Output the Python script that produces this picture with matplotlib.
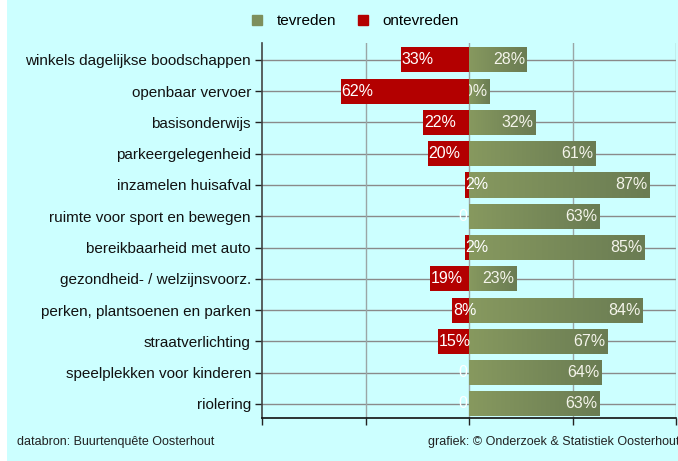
import numpy as np
import matplotlib.pyplot as plt
from matplotlib.patches import Rectangle
from matplotlib.lines import Line2D
from matplotlib.colors import LinearSegmentedColormap

plt.rcParams['font.family'] = ['Liberation Sans', 'DejaVu Sans']

categories = ['winkels dagelijkse boodschappen', 'openbaar vervoer', 'basisonderwijs',
              'parkeergelegenheid', 'inzamelen huisafval', 'ruimte voor sport en bewegen',
              'bereikbaarheid met auto', 'gezondheid- / welzijnsvoorz.',
              'perken, plantsoenen en parken', 'straatverlichting',
              'speelplekken voor kinderen', 'riolering']
tevreden = [28, 10, 32, 61, 87, 63, 85, 23, 84, 67, 64, 63]
ontevreden = [33, 62, 22, 20, 2, 0, 2, 19, 8, 15, 0, 0]

bg = '#ccffff'
red = '#b30000'
green_cmap = LinearSegmentedColormap.from_list('olive', ['#87995f', '#6a7c53'])

fig = plt.figure(figsize=(6.78, 4.61), dpi=100, facecolor='white')
fig.patches.append(Rectangle((7 / 678, 0), 1, 1, transform=fig.transFigure,
                             facecolor=bg, edgecolor='none', zorder=-10))
ax = fig.add_axes([262 / 678, 1 - 418 / 461, 414 / 678, 375 / 461])
ax.set_facecolor(bg)

y = np.arange(len(categories))
h = 0.8

# groene balken met verloop
grad = np.linspace(0, 1, 256).reshape(1, -1)
for yi, v in zip(y, tevreden):
    bar = ax.barh(yi, v, height=h, color='none', zorder=2)[0]
    im = ax.imshow(grad, cmap=green_cmap, aspect='auto', zorder=2,
                   extent=[0, v, yi + h / 2, yi - h / 2])
    im.set_clip_path(bar)
    ax.annotate(f'{v}%', (v, yi), xytext=(-1.5, 0), textcoords='offset points',
                ha='right', va='center', color='#f4f4ea', fontsize=11.5, zorder=3)

ax.barh(y, [-v for v in ontevreden], height=h, color=red, zorder=4)
for yi, v in zip(y, ontevreden):
    if v == 0:
        ax.annotate('0', (0, yi), xytext=(-1, 0), textcoords='offset points',
                    ha='right', va='center', color='white', fontsize=11.5, zorder=5)
    else:
        ax.annotate(f'{v}%', (-v, yi), xytext=(0.5, 0), textcoords='offset points',
                    ha='left', va='center', color='white', fontsize=11.5, zorder=5)

ax.set_xlim(-100, 100)
ax.set_ylim(len(categories) - 1 + 0.45, -0.54)
ax.set_yticks(y)
ax.set_yticklabels(categories, fontsize=11, color='#111111')
ax.set_xticks([-100, -50, 0, 50, 100])
ax.set_xticklabels([])
ax.tick_params(axis='both', length=5, width=1, color='#222222')
ax.tick_params(axis='y', pad=3)

for yi in y:
    ax.axhline(yi, color='#8a8a8a', lw=1, zorder=1)
for xv in [-50, 0, 50, 100]:
    ax.axvline(xv, color='#9aa6a6', lw=1, zorder=1)

for s in ['top', 'right']:
    ax.spines[s].set_visible(False)
ax.spines['left'].set_color('#444444')
ax.spines['left'].set_linewidth(1.2)
ax.spines['bottom'].set_color('#111111')
ax.spines['bottom'].set_linewidth(1.2)

handles = [Line2D([], [], marker='s', ls='', color='#7d8f5c', markersize=7),
           Line2D([], [], marker='s', ls='', color=red, markersize=7)]
fig.legend(handles, ['tevreden', 'ontevreden'], loc='center',
           bbox_to_anchor=(355 / 678, 1 - 21 / 461), ncol=2, frameon=False,
           fontsize=11, handlelength=0.8, handletextpad=0.9, columnspacing=1.3)

fig.text(17 / 678, 1 - 442 / 461, 'databron: Buurtenquête Oosterhout',
         fontsize=9, va='center', ha='left', color='#222222')
fig.text(428 / 678, 1 - 442 / 461, 'grafiek: © Onderzoek & Statistiek Oosterhout',
         fontsize=9, va='center', ha='left', color='#222222')

fig.savefig('out.png', dpi=100, facecolor=fig.get_facecolor())
